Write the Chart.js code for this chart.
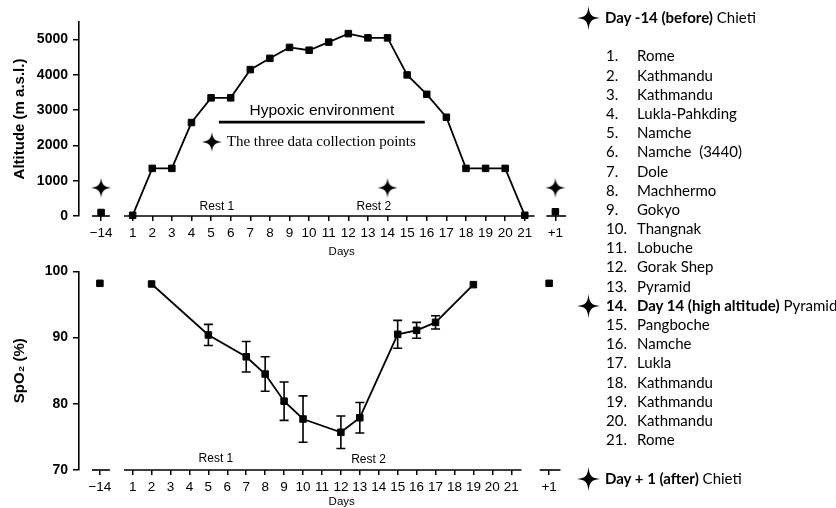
<!DOCTYPE html>
<html>
<head>
<meta charset="utf-8">
<script src="https://cdn.jsdelivr.net/npm/chart.js@4.4.0/dist/chart.umd.min.js"></script>
<style>
  body { margin: 0; background: #fff; width: 836px; height: 508px; overflow: hidden; position: relative; }
  canvas.chart { position: absolute; left: 0; }
  #topChart { top: 0; }
  #botChart { top: 258px; }
  #legend { position: absolute; left: 570px; top: 8px; font-family: Lato, "Open Sans", sans-serif; font-size: 15px; line-height: 19.2px; color: #000; z-index: 2; }
  #legend .row { position: relative; height: 19.2px; white-space: pre; }
  #legend .star { position: absolute; left: 6px; top: -3px; }
  #legend .num { position: absolute; left: 36px; }
  #legend .name { position: absolute; left: 67px; }
  #legend .head { position: absolute; left: 35px; }
  b { font-weight: bold; }
</style>
</head>
<body>
<canvas id="topChart" class="chart" width="610" height="258"></canvas>
<canvas id="botChart" class="chart" width="610" height="250"></canvas>
<div id="legend"></div>
<script>
// ---- data ----
const dayLabels = ['−14', '1', '2', '3', '4', '5', '6', '7', '8', '9', '10', '11', '12', '13', '14', '15', '16', '17', '18', '19', '20', '21', '+1'];

const altDays = [1, 2, 3, 4, 5, 6, 7, 8, 9, 10, 11, 12, 13, 14, 15, 16, 17, 18, 19, 20, 21];
const altitude = [20, 1350, 1350, 2650, 3350, 3350, 4150, 4470, 4780, 4700, 4930, 5170, 5050, 5050, 4000, 3450, 2800, 1350, 1350, 1350, 20];
const homeDays = ['−14', '+1'];
const homeAltitude = [100, 120];
const starDays = ['−14', '14', '+1'];
const starAltitude = [800, 800, 800];
const altTicks = [0, 1000, 2000, 3000, 4000, 5000];

const spo2Days = [2, 5, 7, 8, 9, 10, 12, 13, 15, 16, 17, 19];
const spo2 = [98.1, 90.4, 87.1, 84.5, 80.4, 77.7, 75.7, 77.9, 90.5, 91.1, 92.3, 98.0];
const spo2Err = [0, 1.6, 2.3, 2.6, 2.9, 3.5, 2.45, 2.3, 2.1, 1.2, 1.0, 0];
const homeSpo2 = [98.2, 98.2];
const spo2Ticks = [70, 80, 90, 100];

const places = ['Rome', 'Kathmandu', 'Kathmandu', 'Lukla-Pahkding', 'Namche', 'Namche  (3440)', 'Dole', 'Machhermo', 'Gokyo', 'Thangnak', 'Lobuche', 'Gorak Shep', 'Pyramid', 'Pyramid', 'Pangboche', 'Namche', 'Lukla', 'Kathmandu', 'Kathmandu', 'Kathmandu', 'Rome'];

// ---- helpers ----
const AXIS_FONT = 'Liberation Sans, Arial, sans-serif';

// thin four-pointed star
function drawStar(ctx, cx, cy, rx, ry) {
  const a = 0.9, b = 3.0;
  ctx.beginPath();
  ctx.moveTo(cx, cy - ry);
  ctx.bezierCurveTo(cx + a, cy - b, cx + b, cy - a, cx + rx, cy);
  ctx.bezierCurveTo(cx + b, cy + a, cx + a, cy + b, cx, cy + ry);
  ctx.bezierCurveTo(cx - a, cy + b, cx - b, cy + a, cx - rx, cy);
  ctx.bezierCurveTo(cx - b, cy - a, cx - a, cy - b, cx, cy - ry);
  ctx.closePath();
  ctx.fillStyle = '#000';
  ctx.fill();
}

function starCanvas(rx, ry) {
  const c = document.createElement('canvas');
  c.width = Math.ceil(rx * 2) + 2;
  c.height = Math.ceil(ry * 2) + 2;
  drawStar(c.getContext('2d'), c.width / 2, c.height / 2, rx, ry);
  return c;
}
const chartStar = starCanvas(10, 10);

// -14 and +1 sit in their own little axis pieces
function dayPos(cfg, d) {
  if (d === '−14') return cfg.pre;
  if (d === '+1') return cfg.post;
  return Number(d);
}

const segmentPlugin = {
  id: 'segments',
  afterDraw(chart, args, opts) {
    const { ctx, chartArea } = chart;
    const x = chart.scales.x;
    ctx.save();
    ctx.strokeStyle = '#000';
    ctx.lineWidth = 1.6;
    (opts.list || []).forEach(([a, b]) => {
      ctx.beginPath();
      ctx.moveTo(x.getPixelForValue(a), chartArea.bottom);
      ctx.lineTo(x.getPixelForValue(b), chartArea.bottom);
      ctx.stroke();
    });
    ctx.restore();
  }
};

const errorPlugin = {
  id: 'errbars',
  afterDatasetsDraw(chart) {
    const { ctx } = chart;
    const xs = chart.scales.x, ys = chart.scales.y;
    chart.data.datasets.forEach(ds => {
      if (!ds.err) return;
      ctx.save();
      ctx.strokeStyle = '#000';
      ctx.lineWidth = 1.6;
      ds.data.forEach((p, i) => {
        const e = ds.err[i];
        if (!e) return;
        const px = xs.getPixelForValue(p.x);
        const y1 = ys.getPixelForValue(p.y + e), y2 = ys.getPixelForValue(p.y - e);
        ctx.beginPath();
        ctx.moveTo(px, y1); ctx.lineTo(px, y2);
        ctx.moveTo(px - 4.5, y1); ctx.lineTo(px + 4.5, y1);
        ctx.moveTo(px - 4.5, y2); ctx.lineTo(px + 4.5, y2);
        ctx.stroke();
      });
      ctx.restore();
    });
  }
};

const notePlugin = {
  id: 'notes',
  afterDraw(chart, args, opts) {
    const { ctx } = chart;
    const xs = chart.scales.x, ys = chart.scales.y;
    ctx.save();
    ctx.fillStyle = '#000';
    ctx.strokeStyle = '#000';
    (opts.items || []).forEach(n => {
      const px = xs.getPixelForValue(n.x), py = ys.getPixelForValue(n.y);
      if (n.type === 'line') {
        ctx.lineWidth = n.width;
        ctx.beginPath();
        ctx.moveTo(px, py);
        ctx.lineTo(xs.getPixelForValue(n.x2), py);
        ctx.stroke();
      } else if (n.type === 'star') {
        ctx.drawImage(chartStar, px - chartStar.width / 2, py - chartStar.height / 2);
      } else {
        ctx.font = n.font;
        ctx.textAlign = n.align || 'center';
        ctx.textBaseline = 'middle';
        ctx.fillText(n.text, px, py);
      }
    });
    ctx.restore();
  }
};

function xScale(cfg) {
  return {
    type: 'linear', min: cfg.xmin, max: cfg.xmax,
    border: { display: false },
    grid: { drawOnChartArea: false, drawTicks: true, tickLength: 5, color: '#000', tickColor: '#000', lineWidth: 1.5 },
    ticks: {
      autoSkip: false, maxRotation: 0, padding: 4, color: '#000',
      font: { family: AXIS_FONT, size: 13.5 },
      callback: (v, i) => dayLabels[i]
    },
    afterBuildTicks: s => { s.ticks = dayLabels.map(d => ({ value: dayPos(cfg, d) })); },
    afterFit: s => { s.height = cfg.xh; },
    title: { display: true, text: 'Days', color: '#000', padding: 0, font: { family: AXIS_FONT, size: 11.5, lineHeight: 1 } }
  };
}

function yScale(min, max, ticks, title) {
  return {
    min, max,
    border: { display: true, color: '#000', width: 1.6 },
    grid: { drawOnChartArea: false, tickLength: 6, color: '#000', tickColor: '#000', lineWidth: 1.5 },
    ticks: { padding: 5, color: '#000', font: { family: AXIS_FONT, size: 14, weight: 'bold' }, callback: v => String(v) },
    afterBuildTicks: s => { s.ticks = ticks.map(v => ({ value: v })); },
    afterFit: s => { s.width = 79; },
    title: { display: true, text: title, color: '#000', padding: { top: 12, bottom: 0 }, font: { family: AXIS_FONT, size: 15, weight: 'bold', lineHeight: 1 } }
  };
}

const squareStyle = { pointStyle: 'rect', pointRadius: 4.6, pointBackgroundColor: '#000', pointBorderColor: '#000', pointBorderWidth: 1 };

// ---- top: altitude ----
const topCfg = { xmin: -1.736, xmax: 25.06, pre: -0.61, post: 22.56, xh: 42 };
new Chart(document.getElementById('topChart'), {
  type: 'line',
  data: {
    datasets: [
      Object.assign({ data: altDays.map((d, i) => ({ x: d, y: altitude[i] })), borderColor: '#000', borderWidth: 1.8, clip: false }, squareStyle),
      Object.assign({ data: homeDays.map((d, i) => ({ x: dayPos(topCfg, d), y: homeAltitude[i] })), showLine: false, clip: false }, squareStyle),
      { data: starDays.map((d, i) => ({ x: dayPos(topCfg, d), y: starAltitude[i] })), showLine: false, pointStyle: chartStar, clip: false }
    ]
  },
  options: {
    responsive: false, animation: false, events: [],
    layout: { padding: { top: 22, left: 0, right: 5, bottom: 0 } },
    scales: { x: xScale(topCfg), y: yScale(0, 5500, altTicks, 'Altitude (m a.s.l.)') },
    plugins: {
      legend: { display: false }, tooltip: { enabled: false },
      segments: { list: [[-1.07, -0.16], [0.56, 21.5], [22.1, 23.1]] },
      notes: {
        items: [
          { type: 'text', text: 'Hypoxic environment', x: 10.65, y: 2980, font: '15.5px ' + AXIS_FONT },
          { type: 'line', x: 5.4, x2: 15.9, y: 2660, width: 2.6 },
          { type: 'star', x: 5.04, y: 2100 },
          { type: 'text', text: 'The three data collection points', x: 5.8, y: 2100, align: 'left', font: '15px "Liberation Serif", "Times New Roman", serif' },
          { type: 'text', text: 'Rest 1', x: 5.3, y: 250, font: '12px ' + AXIS_FONT },
          { type: 'text', text: 'Rest 2', x: 13.3, y: 250, font: '12px ' + AXIS_FONT }
        ]
      }
    }
  },
  plugins: [segmentPlugin, notePlugin]
});

// ---- bottom: SpO2 ----
const botCfg = { xmin: -1.834, xmax: 25.92, pre: -0.73, post: 23.0, xh: 38 };
new Chart(document.getElementById('botChart'), {
  type: 'line',
  data: {
    datasets: [
      Object.assign({ data: spo2Days.map((d, i) => ({ x: d, y: spo2[i] })), err: spo2Err, borderColor: '#000', borderWidth: 1.8, clip: false }, squareStyle),
      Object.assign({ data: homeDays.map((d, i) => ({ x: dayPos(botCfg, d), y: homeSpo2[i] })), showLine: false, clip: false }, squareStyle)
    ]
  },
  options: {
    responsive: false, animation: false, events: [],
    layout: { padding: { top: 8, left: 0, right: 5, bottom: 0 } },
    scales: { x: xScale(botCfg), y: yScale(70, 100, spo2Ticks, 'SpO₂ (%)') },
    plugins: {
      legend: { display: false }, tooltip: { enabled: false },
      segments: { list: [[-1.15, -0.2], [0.54, 21.54], [22.5, 23.6]] },
      notes: {
        items: [
          { type: 'text', text: 'Rest 1', x: 5.4, y: 71.65, font: '12px ' + AXIS_FONT },
          { type: 'text', text: 'Rest 2', x: 13.46, y: 71.6, font: '12px ' + AXIS_FONT }
        ]
      }
    }
  },
  plugins: [segmentPlugin, errorPlugin, notePlugin]
});

// ---- right-hand key ----
const legend = document.getElementById('legend');
function addRow(html, star) {
  const row = document.createElement('div');
  row.className = 'row';
  row.innerHTML = html;
  if (star) {
    const s = starCanvas(11.5, 12);
    s.className = 'star';
    row.appendChild(s);
  }
  legend.appendChild(row);
}
addRow('<span class="head"><b>Day -14 (before)</b> Chieti</span>', true);
addRow('');
places.forEach((p, i) => {
  const n = i + 1;
  if (n === 14) addRow('<span class="num"><b>14.</b></span><span class="name"><b>Day 14 (high altitude)</b> ' + p + '</span>', true);
  else addRow('<span class="num">' + n + '.</span><span class="name">' + p + '</span>');
});
addRow('');
addRow('<span class="head"><b>Day + 1 (after)</b> Chieti</span>', true);
</script>
</body>
</html>
